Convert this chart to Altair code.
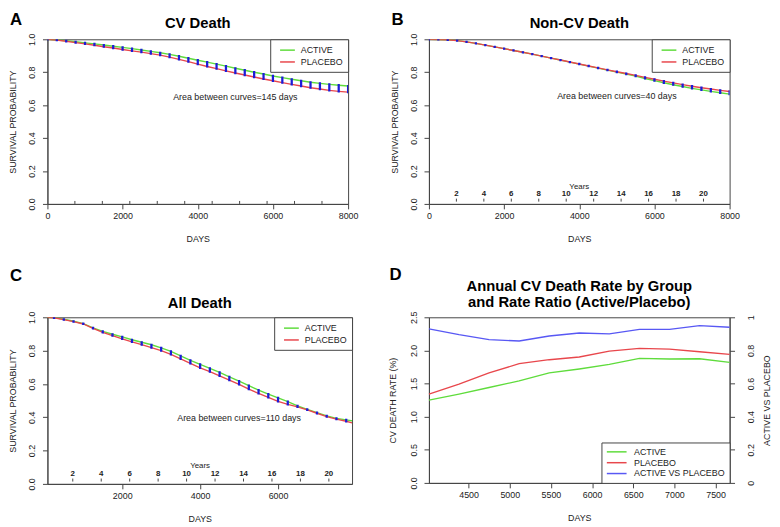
import altair as alt
import pandas as pd

# ---------------- data ----------------
days = list(range(0, 8001, 250))

a_active = [1.000, 0.996, 0.991, 0.985, 0.978, 0.972, 0.965, 0.958, 0.951, 0.943, 0.935, 0.927, 0.918,
            0.908, 0.897, 0.885, 0.873, 0.861, 0.849, 0.837, 0.824, 0.812, 0.800, 0.789, 0.777, 0.767,
            0.757, 0.748, 0.739, 0.732, 0.726, 0.721, 0.716]
a_placebo = [1.000, 0.995, 0.988, 0.980, 0.972, 0.964, 0.955, 0.947, 0.938, 0.930, 0.922, 0.913, 0.904,
             0.892, 0.878, 0.864, 0.849, 0.835, 0.822, 0.808, 0.795, 0.783, 0.771, 0.759, 0.748, 0.737,
             0.726, 0.716, 0.706, 0.698, 0.690, 0.684, 0.679]

b_active = [1.000, 0.999, 0.997, 0.992, 0.984, 0.975, 0.965, 0.954, 0.943, 0.932, 0.921, 0.910, 0.898,
            0.886, 0.874, 0.861, 0.849, 0.837, 0.825, 0.813, 0.801, 0.789, 0.776, 0.762, 0.749, 0.736,
            0.724, 0.713, 0.702, 0.693, 0.684, 0.675, 0.667]
b_placebo = [1.000, 0.999, 0.997, 0.992, 0.984, 0.975, 0.965, 0.954, 0.943, 0.932, 0.921, 0.910, 0.898,
             0.886, 0.874, 0.862, 0.850, 0.838, 0.826, 0.814, 0.803, 0.792, 0.781, 0.769, 0.757, 0.746,
             0.735, 0.725, 0.715, 0.706, 0.698, 0.690, 0.683]

c_active = [1.000, 0.998, 0.988, 0.976, 0.962, 0.937, 0.915, 0.898, 0.882, 0.865, 0.850, 0.835, 0.816,
            0.795, 0.768, 0.741, 0.717, 0.694, 0.669, 0.643, 0.617, 0.590, 0.563, 0.539, 0.516, 0.494,
            0.468, 0.447, 0.428, 0.408, 0.393, 0.384, 0.375]
c_placebo = [1.000, 0.997, 0.986, 0.974, 0.960, 0.934, 0.910, 0.890, 0.870, 0.852, 0.836, 0.818, 0.800,
             0.778, 0.750, 0.723, 0.697, 0.674, 0.649, 0.623, 0.597, 0.569, 0.543, 0.519, 0.495, 0.477,
             0.462, 0.444, 0.424, 0.404, 0.389, 0.376, 0.360]

year_ticks = [2, 4, 6, 8, 10, 12, 14, 16, 18, 20]

d_days = [4018, 4383, 4748, 5114, 5479, 5844, 6209, 6575, 6940, 7305, 7670]
d_active = [1.25, 1.34, 1.44, 1.54, 1.66, 1.72, 1.79, 1.88, 1.87, 1.875, 1.82]
d_placebo = [1.34, 1.49, 1.66, 1.80, 1.86, 1.90, 1.99, 2.03, 2.02, 1.98, 1.94]
d_ratio = [0.93, 0.895, 0.865, 0.857, 0.887, 0.905, 0.90, 0.927, 0.927, 0.95, 0.94]

GREEN = "#5fdc3c"
RED = "#e8474c"
BLUE = "#1c1cd8"
BLUE_LINE = "#5858f4"
FONT = "Liberation Sans"
INK = "#222222"
FRAME = "#444444"


def label(text, x, y, size=15, weight="bold", align="center", baseline="middle"):
    return alt.Chart(pd.DataFrame({"t": [text]})).mark_text(
        font=FONT, fontSize=size, fontWeight=weight, color="#000", align=align,
        baseline=baseline).encode(x=alt.value(x), y=alt.value(y), text="t:N")


def km_panel(letter, title, active, placebo, area_text, text_y, domain, xticks,
             year_labels, width, height, letter_y, title_y):
    xs = alt.Scale(domain=domain, nice=False, zero=False)
    ys = alt.Scale(domain=[0, 1], nice=False)
    xaxis = alt.Axis(values=xticks, format="d", labelFlush=False, tickSize=5,
                     labelPadding=3, titlePadding=14, title="DAYS")
    yaxis = alt.Axis(values=[0, 0.2, 0.4, 0.6, 0.8, 1.0], format=".1f", labelAngle=270,
                     labelAlign="center", labelBaseline="bottom", tickSize=5,
                     labelOverlap=False, labelPadding=6, titlePadding=10,
                     title="SURVIVAL PROBABILITY")
    long = pd.DataFrame({
        "days": days * 2,
        "surv": active + placebo,
        "group": ["ACTIVE"] * len(days) + ["PLACEBO"] * len(days),
    })
    wide = pd.DataFrame({"days": days, "active": active, "placebo": placebo})

    lines = alt.Chart(long).mark_line(strokeWidth=1.4, clip=True).encode(
        x=alt.X("days:Q", scale=xs, axis=xaxis),
        y=alt.Y("surv:Q", scale=ys, axis=yaxis),
        color=alt.Color("group:N",
                        scale=alt.Scale(domain=["ACTIVE", "PLACEBO"], range=[GREEN, RED]),
                        legend=alt.Legend(title=None, orient="top-right", offset=0,
                                          strokeColor=FRAME, fillColor="white", padding=5,
                                          symbolType="M-0.2,0H2.8", symbolStrokeWidth=1.5,
                                          symbolSize=100, labelFontSize=9, labelFont=FONT,
                                          labelColor=INK, rowPadding=1, labelOffset=14)),
    )
    hatch = alt.Chart(wide).mark_rule(color=BLUE, strokeWidth=2.3, strokeCap="square",
                                      clip=True).encode(
        x=alt.X("days:Q", scale=xs, axis=xaxis),
        y=alt.Y("active:Q", scale=ys, axis=yaxis),
        y2="placebo:Q",
    )
    ann = alt.Chart(pd.DataFrame({"days": [5000], "surv": [text_y], "t": [area_text]})).mark_text(
        font=FONT, fontSize=9, color=INK, baseline="middle").encode(
        x=alt.X("days:Q", scale=xs, axis=xaxis),
        y=alt.Y("surv:Q", scale=ys, axis=yaxis),
        text="t:N",
    )
    ydf = pd.DataFrame({"days": [y * 365.25 for y in year_ticks],
                        "lab": [str(y) for y in year_ticks]})
    layers = [lines, hatch, ann]
    if year_labels:
        ylab = alt.Chart(ydf).mark_text(font=FONT, fontSize=8, fontWeight="bold", color=INK,
                                        baseline="middle").encode(
            x=alt.X("days:Q", scale=xs, axis=xaxis),
            y=alt.datum(0.058, scale=ys, axis=yaxis),
            text="lab:N",
        )
        ytk = alt.Chart(ydf).mark_rule(color=FRAME, strokeWidth=1).encode(
            x=alt.X("days:Q", scale=xs, axis=xaxis),
            y=alt.datum(0.014, scale=ys, axis=yaxis),
            y2=alt.datum(0.032),
        )
        yt = alt.Chart(pd.DataFrame({"days": [4000], "t": ["Years"]})).mark_text(
            font=FONT, fontSize=8, color=INK, baseline="middle").encode(
            x=alt.X("days:Q", scale=xs, axis=xaxis),
            y=alt.datum(0.105, scale=ys, axis=yaxis),
            text="t:N",
        )
        layers += [ytk, ylab, yt]
    else:
        ytk = alt.Chart(ydf).mark_rule(color=FRAME, strokeWidth=1).encode(
            x=alt.X("days:Q", scale=xs, axis=xaxis),
            y=alt.datum(0.0, scale=ys, axis=yaxis),
            y2=alt.datum(0.018),
        )
        layers += [ytk]
    layers.append(label(letter, -38, letter_y, size=17, align="left", baseline="alphabetic"))
    layers.append(label(title, width / 2, title_y))
    return alt.layer(*layers).properties(width=width, height=height)


A = km_panel("A", "CV Death", a_active, a_placebo, "Area between curves=145 days", 0.648,
             [0, 8000], [0, 2000, 4000, 6000, 8000], False, 305, 167, -14.5, -16)
B = km_panel("B", "Non-CV Death", b_active, b_placebo, "Area between curves=40 days", 0.653,
             [0, 8000], [0, 2000, 4000, 6000, 8000], True, 305, 167, -14.5, -16)
C = km_panel("C", "All Death", c_active, c_placebo, "Area between curves=110 days", 0.398,
             [80, 7900], [2000, 4000, 6000], True, 309, 169, -37, -14)

# ---------------- panel D ----------------
dxs = alt.Scale(domain=[4018, 7670], nice=False, zero=False)
cscale = alt.Scale(domain=["ACTIVE", "PLACEBO", "ACTIVE VS PLACEBO"], range=[GREEN, RED, BLUE_LINE])
dleg = alt.Legend(title=None, orient="bottom-right", offset=0, strokeColor=FRAME, fillColor="white",
                  padding=4, symbolType="M-0.9,0H3.55", symbolStrokeWidth=1.5, symbolSize=81,
                  labelFontSize=9, labelFont=FONT, labelColor=INK, rowPadding=0, labelOffset=18)
rates = pd.DataFrame({
    "days": d_days * 2,
    "rate": d_active + d_placebo,
    "group": ["ACTIVE"] * len(d_days) + ["PLACEBO"] * len(d_days),
})
ratio = pd.DataFrame({"days": d_days, "ratio": d_ratio, "group": ["ACTIVE VS PLACEBO"] * len(d_days)})
dxaxis = alt.Axis(values=[4500, 5000, 5500, 6000, 6500, 7000, 7500], format="d",
                  labelFlush=False, tickSize=5, labelPadding=3, titlePadding=14, title="DAYS")

d_rates = alt.Chart(rates).mark_line(strokeWidth=1.4).encode(
    x=alt.X("days:Q", scale=dxs, axis=dxaxis),
    y=alt.Y("rate:Q", scale=alt.Scale(domain=[0, 2.5], nice=False),
            axis=alt.Axis(values=[0, 0.5, 1.0, 1.5, 2.0, 2.5], format=".1f", labelAngle=270,
                          labelAlign="center", labelBaseline="bottom", tickSize=5,
                          labelOverlap=False, labelPadding=6, titlePadding=12,
                          title="CV DEATH RATE (%)")),
    color=alt.Color("group:N", scale=cscale, legend=dleg),
)
d_ratio_line = alt.Chart(ratio).mark_line(strokeWidth=1.4).encode(
    x=alt.X("days:Q", scale=dxs, axis=dxaxis),
    y=alt.Y("ratio:Q", scale=alt.Scale(domain=[0, 1], nice=False),
            axis=alt.Axis(orient="right", values=[0, 0.2, 0.4, 0.6, 0.8, 1.0], format="~g",
                          labelAngle=270, labelAlign="center", labelBaseline="top", tickSize=5,
                          labelOverlap=False, labelPadding=12, titlePadding=7, titleAngle=270,
                          titleBaseline="top", title="ACTIVE VS PLACEBO")),
    color=alt.Color("group:N", scale=cscale, legend=dleg),
)

D = alt.layer(
    d_rates, d_ratio_line,
    label("D", -40, -38, size=17, align="left", baseline="alphabetic"),
    label("Annual CV Death Rate by Group", 152.5, -32),
    label("and Rate Ratio (Active/Placebo)", 152.5, -15),
).resolve_scale(y="independent").properties(width=305, height=168)

top = alt.hconcat(A, B, spacing=31).resolve_scale(color="independent").resolve_legend(color="independent")
bottom = alt.hconcat(C, D, spacing=35).resolve_scale(color="independent").resolve_legend(color="independent")

chart = alt.vconcat(top, bottom, spacing=21).resolve_scale(color="independent").resolve_legend(
    color="independent").properties(
    padding={"top": -1, "left": 0, "right": 0, "bottom": 0}).configure_view(
    stroke=FRAME, strokeWidth=1).configure_axis(
    grid=False, domainColor=FRAME, tickColor=FRAME, labelFont=FONT, titleFont=FONT,
    labelFontSize=9, titleFontSize=9, labelColor=INK, titleColor=INK, labelOverlap=False,
    titleFontWeight="normal")

chart.save("out.html", embed_options={"renderer": "svg", "actions": False})
